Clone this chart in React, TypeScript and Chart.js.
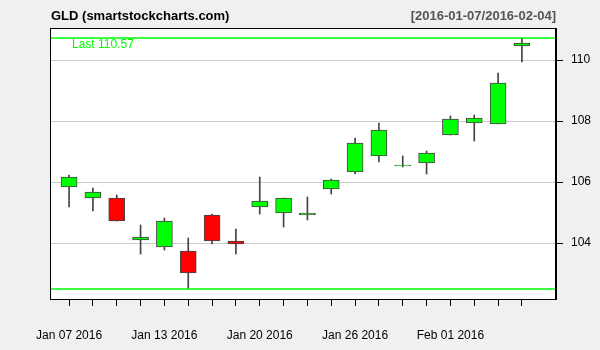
import React, { useEffect, useRef } from "react";
import { Chart, registerables } from "chart.js";

Chart.register(...registerables);

const dates = [
  "Jan 07 2016", "Jan 08 2016", "Jan 11 2016", "Jan 12 2016", "Jan 13 2016",
  "Jan 14 2016", "Jan 15 2016", "Jan 19 2016", "Jan 20 2016", "Jan 21 2016",
  "Jan 22 2016", "Jan 25 2016", "Jan 26 2016", "Jan 27 2016", "Jan 28 2016",
  "Jan 29 2016", "Feb 01 2016", "Feb 02 2016", "Feb 03 2016", "Feb 04 2016",
];
const labeledIdx = [0, 4, 8, 12, 16];

const opens = [105.84, 105.48, 105.48, 104.10, 103.87, 103.75, 104.92, 104.07, 105.18, 104.98,
  104.92, 105.77, 106.33, 106.85, 106.51, 106.62, 107.54, 107.93, 107.90, 110.46];
const highs = [106.24, 105.80, 105.58, 104.60, 104.83, 104.17, 104.96, 104.47, 106.17, 105.48,
  105.52, 106.11, 107.45, 107.94, 106.86, 107.03, 108.16, 108.20, 109.58, 110.72];
const lows = [105.17, 105.04, 104.72, 103.63, 103.76, 102.49, 103.95, 103.63, 104.94, 104.51,
  104.74, 105.59, 106.25, 106.64, 106.48, 106.25, 107.54, 107.33, 107.90, 109.92];
const closes = [106.16, 105.67, 104.72, 104.20, 104.72, 103.02, 104.07, 103.97, 105.38, 105.48,
  104.98, 106.07, 107.28, 107.70, 106.57, 106.95, 108.07, 108.10, 109.25, 110.57];

const yTicks = [104, 106, 108, 110];
const yRange = [102.16, 111.05];
const xRange = [-0.8, 20.43];

const titleLeft = "GLD (smartstockcharts.com)";
const titleRight = "[2016-01-07/2016-02-04]";

const FONT = "'Liberation Sans', Arial, sans-serif";
const UP = "#00ff00";
const DOWN = "#ff0000";
const EDGE = "#444444";

export default function App() {
  const ref = useRef<HTMLCanvasElement | null>(null);

  useEffect(() => {
    document.body.style.margin = "0";
    document.body.style.background = "#f0f0f0";
    const canvas = ref.current;
    if (!canvas) return;

    const maxHigh = Math.max(...highs);
    const minLow = Math.min(...lows);
    const lastClose = closes[closes.length - 1];

    const framePlugin = {
      id: "frame",
      beforeDraw(chart: any) {
        const { ctx, chartArea: a } = chart;
        ctx.save();
        ctx.fillStyle = "#f0f0f0";
        ctx.fillRect(0, 0, chart.width, chart.height);
        ctx.fillStyle = "#ffffff";
        ctx.fillRect(a.left, a.top, a.right - a.left, a.bottom - a.top);
        ctx.restore();
      },
      afterDraw(chart: any) {
        const { ctx, chartArea: a } = chart;
        const y = chart.scales.y;
        ctx.save();
        ctx.strokeStyle = "#000";
        ctx.lineWidth = 1;
        ctx.strokeRect(Math.round(a.left) + 0.5, Math.round(a.top) + 0.5,
          Math.round(a.right - a.left) - 1, Math.round(a.bottom - a.top));
        ctx.font = `bold 13px ${FONT}`;
        ctx.textBaseline = "alphabetic";
        ctx.textAlign = "left";
        ctx.fillStyle = "#000";
        ctx.fillText(titleLeft, a.left + 1, 20);
        ctx.textAlign = "right";
        ctx.fillStyle = "#555555";
        ctx.fillText(titleRight, a.right, 20);
        ctx.font = `12px ${FONT}`;
        ctx.textAlign = "left";
        ctx.fillStyle = UP;
        ctx.fillText("Last " + lastClose.toFixed(2), a.left + 22, y.getPixelForValue(maxHigh) + 10);
        ctx.restore();
      },
    };

    const bodies = opens.map((o, i) => ({ x: i, y: [o, closes[i]] }));
    const wicks = highs.map((h, i) => ({ x: i, y: [lows[i], h] }));
    const bodyColors = opens.map((o, i) => (closes[i] >= o ? UP : DOWN));

    const chart = new Chart(canvas, {
      type: "bar",
      data: {
        datasets: [
          {
            type: "line",
            data: [{ x: xRange[0], y: maxHigh }, { x: xRange[1], y: maxHigh }],
            borderColor: UP,
            borderWidth: 1.3,
            pointRadius: 0,
            order: 0,
          } as any,
          {
            type: "line",
            data: [{ x: xRange[0], y: minLow }, { x: xRange[1], y: minLow }],
            borderColor: UP,
            borderWidth: 1.3,
            pointRadius: 0,
            order: 0,
          } as any,
          {
            data: bodies as any,
            backgroundColor: bodyColors,
            borderColor: EDGE,
            borderWidth: 1,
            borderSkipped: false,
            barThickness: 16,
            grouped: false,
            order: 1,
          } as any,
          {
            data: wicks as any,
            backgroundColor: EDGE,
            borderWidth: 0,
            barThickness: 1,
            grouped: false,
            order: 2,
          } as any,
        ],
      },
      options: {
        animation: false,
        responsive: false,
        maintainAspectRatio: false,
        layout: { padding: { left: 50, top: 28, right: 0, bottom: 0 } },
        plugins: { legend: { display: false }, tooltip: { enabled: false }, title: { display: false } },
        scales: {
          x: {
            type: "linear",
            position: "bottom",
            min: xRange[0],
            max: xRange[1],
            offset: false,
            grid: { offset: false, drawOnChartArea: false, drawTicks: true, tickLength: 7, tickColor: "#000" },
            border: { display: true, color: "#000" },
            afterBuildTicks: (s: any) => {
              s.ticks = dates.map((_, i) => ({ value: i }));
            },
            afterFit: (s: any) => {
              s.height = 51;
            },
            ticks: {
              autoSkip: false,
              maxRotation: 0,
              padding: 22,
              color: "#000",
              font: { family: FONT, size: 12 },
              callback: (v: any) => (labeledIdx.includes(v) ? dates[v] : ""),
            },
          },
          y: {
            type: "linear",
            position: "right",
            min: yRange[0],
            max: yRange[1],
            alignToPixels: true,
            grid: { color: "#cccccc", tickColor: "#000", tickLength: 7, lineWidth: 1 },
            border: { display: true, color: "#000" },
            afterBuildTicks: (s: any) => {
              s.ticks = yTicks.map((v) => ({ value: v }));
            },
            afterFit: (s: any) => {
              s.width = 44;
            },
            ticks: {
              padding: 8,
              color: "#000",
              font: { family: FONT, size: 12 },
              callback: (v: any) => String(v),
            },
          },
        },
      },
      plugins: [framePlugin],
    });

    return () => chart.destroy();
  }, []);

  return (
    <div style={{ width: 600, height: 350, background: "#f0f0f0" }}>
      <canvas ref={ref} width={600} height={350} style={{ display: "block" }} />
    </div>
  );
}
